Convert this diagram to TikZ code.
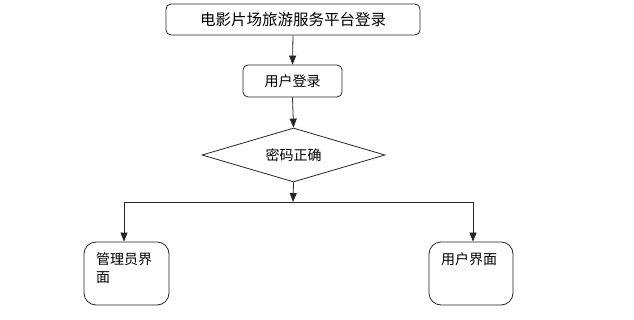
\documentclass[tikz,border=0pt]{standalone}
\usepackage{fontspec}
\newfontfamily\cjk{Noto Sans CJK SC}
\usetikzlibrary{arrows.meta,shapes.geometric}
\begin{document}
\begin{tikzpicture}[x=1pt,y=-1pt,
  font=\cjk\fontsize{14}{18}\selectfont,
  box/.style={draw=black!85, line width=0.8pt, rounded corners=5pt, inner sep=0pt},
  bigbox/.style={draw=black!85, line width=0.8pt, rounded corners=12pt, inner sep=0pt},
  dia/.style={draw=black!85, line width=0.8pt, diamond, aspect=3.4, inner sep=0pt},
  arr/.style={draw=black!85, line width=0.8pt, -{Triangle[length=9pt,width=7pt]}},
  ln/.style={draw=black!85, line width=0.8pt}]
\useasboundingbox (0,0) rectangle (634,320);
\node[box, minimum width=254, minimum height=31, font=\cjk\fontsize{15.5}{18}\selectfont] (title) at (293,19.5) {电影片场旅游服务平台登录};
\node[box, minimum width=99, minimum height=32] (login) at (292.5,81) {用户登录};
\node[draw=black!85, line width=0.8pt, diamond, minimum width=183, minimum height=54, inner sep=0pt, shape aspect=3.4] (check) at (293.5,155) {};
\node (checkt) at (check.center) {密码正确};
\node[bigbox, minimum width=85, minimum height=63] (admin) at (126.5,273.5) {};
\node[anchor=north west, align=left, text width=62, inner sep=0pt] (admint) at (96,252) {管理员界\\面};
\node[bigbox, minimum width=84, minimum height=63] (user) at (471,273.5) {};
\node[anchor=north, inner sep=0pt] (usert) at (469,252) {用户界面};
\coordinate (split) at (293,202);
\coordinate (sl) at (124,202);
\coordinate (sr) at (473,202);
\draw[arr] (title.south) -- (login.north);
\draw[arr] (login.south) -- (check.north);
\draw[arr] (check.south) -- (split);
\draw[ln] (sl) -- (sr);
\draw[arr] (sl) -- (sl |- admin.north);
\draw[arr] (sr) -- (sr |- user.north);
\end{tikzpicture}
\end{document}
